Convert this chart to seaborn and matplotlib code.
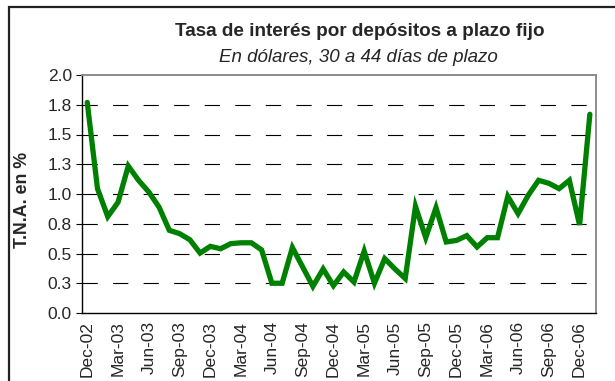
import matplotlib
matplotlib.use("Agg")
import matplotlib.pyplot as plt
import matplotlib.patches as mpatches
import numpy as np
import pandas as pd
import seaborn as sns

# Monthly rate, Dec-2002 .. Jan-2007 (T.N.A., %)
months = pd.period_range("2002-12", "2007-01", freq="M")
rates = [1.77, 1.045, 0.81, 0.93, 1.235, 1.115, 1.017, 0.89, 0.695, 0.667,
         0.616, 0.504, 0.56, 0.54, 0.583, 0.59, 0.59, 0.53, 0.25, 0.25,
         0.55, 0.387, 0.224, 0.37, 0.23, 0.345, 0.26, 0.52, 0.25, 0.457,
         0.37, 0.29, 0.896, 0.633, 0.885, 0.597, 0.61, 0.65, 0.555, 0.633,
         0.633, 0.98, 0.835, 0.99, 1.115, 1.09, 1.045, 1.115, 0.74, 1.67]
x_labels = ["Dec-02", "Mar-03", "Jun-03", "Sep-03", "Dec-03", "Mar-04",
            "Jun-04", "Sep-04", "Dec-04", "Mar-05", "Jun-05", "Sep-05",
            "Dec-05", "Mar-06", "Jun-06", "Sep-06", "Dec-06"]
y_ticks = [0.0, 0.25, 0.5, 0.75, 1.0, 1.25, 1.5, 1.75, 2.0]
y_labels = ["0.0", "0.3", "0.5", "0.8", "1.0", "1.3", "1.5", "1.8", "2.0"]

df = pd.DataFrame({"idx": np.arange(len(rates)), "rate": rates,
                   "mes": months.strftime("%b-%y")})

sns.set_theme(style="white")
plt.rcParams["font.family"] = ["Liberation Sans", "DejaVu Sans"]
plt.rcParams["lines.scale_dashes"] = False

fig = plt.figure(figsize=(6.15, 3.81), dpi=100)
ax = fig.add_axes([81.6 / 615, 1 - 313 / 381, (596 - 81.6) / 615, (313 - 75) / 381])

# dashed horizontal grid
for yv in y_ticks[1:-1]:
    ax.axhline(yv, color="black", lw=0.8, dashes=(11, 11), zorder=1)

sns.lineplot(data=df, x="idx", y="rate", ax=ax, color="#008000",
             lw=3.8, zorder=3, solid_joinstyle="miter")

ax.set_xlim(-0.55, len(rates) - 0.4)
ax.set_ylim(0, 2.0)
ax.set_xticks(np.arange(0, len(rates), 3)[:len(x_labels)])
ax.set_xticklabels(x_labels, rotation=90, fontsize=12.5)
ax.set_yticks(y_ticks)
ax.set_yticklabels(y_labels, fontsize=12.5)
ax.tick_params(axis="y", direction="out", length=4, width=0.8,
               color="black", pad=3, left=True)
ax.tick_params(axis="x", length=0, pad=6)
ax.set_xlabel("")
ax.set_ylabel("")

for side in ("left", "bottom"):
    ax.spines[side].set_color("black")
    ax.spines[side].set_linewidth(1.0)
for side in ("top", "right"):
    ax.spines[side].set_color("#8c8c8c")
    ax.spines[side].set_linewidth(1.4)
    ax.spines[side].set_visible(True)

fig.text(360 / 615, 1 - 32 / 381, "Tasa de interés por depósitos a plazo fijo",
         ha="center", va="center", fontsize=13.6, fontweight="bold")
fig.text(358 / 615, 1 - 58 / 381, "En dólares, 30 a 44 días de plazo",
         ha="center", va="center", fontsize=13.5, style="italic")
fig.text(23 / 615, 1 - 200 / 381, "T.N.A. en %", rotation=90,
         ha="center", va="center", fontsize=12.8, fontweight="bold")

# outer frame
frame = mpatches.Rectangle((9 / 615, -0.2), 1.2, 1 - 7 / 381 + 0.2,
                           transform=fig.transFigure, fill=False,
                           edgecolor="#222222", lw=1.6, clip_on=False)
fig.patches.append(frame)

fig.savefig("out.png", dpi=100, facecolor="white")
